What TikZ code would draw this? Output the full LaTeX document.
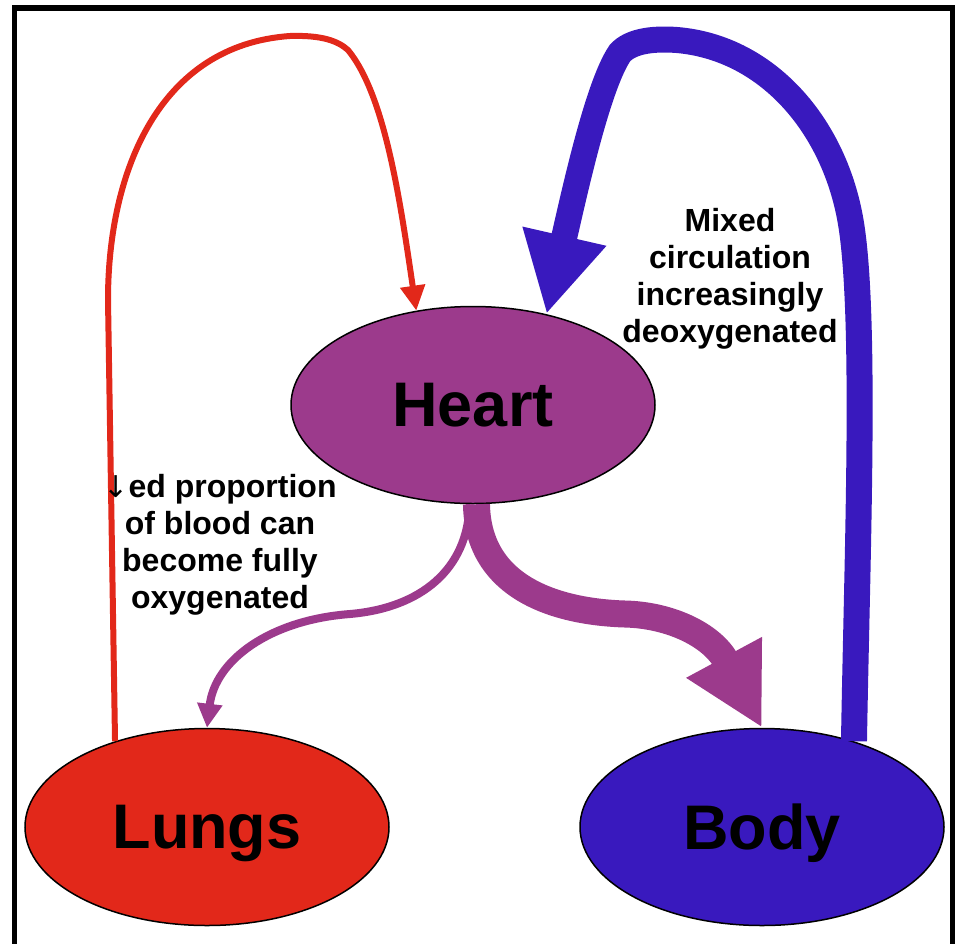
\documentclass[tikz,border=0pt]{standalone}
\usepackage{fontspec}
\setmainfont{Liberation Sans}
\newfontfamily\arrowfont{DejaVu Sans}
\usetikzlibrary{arrows.meta,shapes.geometric}
\definecolor{heartpurple}{RGB}{156,58,140}
\definecolor{lungred}{RGB}{226,40,26}
\definecolor{bodyblue}{RGB}{57,25,190}
\tikzset{organ/.style={ellipse, draw=black, line width=1.5pt, minimum width=364pt,
    minimum height=197pt, inner sep=0pt, text depth=0pt,
    font=\fontsize{63}{70}\selectfont\bfseries}}
\tikzset{note/.style={align=center, inner sep=0pt, font=\fontsize{32}{37}\selectfont\bfseries}}
\tikzset{oxyflow/.style={draw=lungred, line width=6pt, -{Triangle[length=25pt,width=24pt]}}}
\tikzset{deoxyflow/.style={draw=bodyblue, line width=26pt, -{Triangle[length=80pt,width=80pt]}}}
\tikzset{mixflow/.style={draw=heartpurple, -{Triangle[length=#1,width=#1]}}}

\begin{document}
\begin{tikzpicture}[x=1pt, y=-1pt]

		\useasboundingbox (0,0) rectangle (958,943);
		\draw[line width=5.5pt] (14.5,8) rectangle (952.5,960);

		% Organs
		\node[organ, fill=heartpurple] (Heart) at (473,405) {Heart};
		\node[organ, fill=lungred] (Lungs) at (207,827) {Lungs};
		\node[organ, fill=bodyblue] (Body) at (762,827) {Body};

		% Flows
		\draw[oxyflow] (Lungs.137) -- (108,300)
      .. controls (108,170) and (160,45) .. (290,36)
      .. controls (322,35) and (338,41) .. (348,50)
      .. controls (385,95) and (400,200) .. (Heart.121);

		\draw[deoxyflow] (Body.43) .. controls (857,560) and (866,330) .. (852,230)
      .. controls (838,130) and (770,48) .. (677,40)
      .. controls (650,38) and (630,42) .. (620,53)
      .. controls (598,85) and (575,190) .. (Heart.51);

		\draw[mixflow=80pt, line width=27pt] (Heart.-88)
      .. controls (478,590) and (560,612) .. (625,614)
      .. controls (670,615) and (712,635) .. (Body.north);
		\draw[mixflow=24pt, line width=8pt] (Heart.-92)
      .. controls (468,570) and (420,608) .. (350,614)
      .. controls (270,620) and (215,660) .. (Lungs.north);

		% Notes
		\node[note] (mixed) at (730,279)
      {Mixed\\circulation\\increasingly\\deoxygenated};
		\node[note] (fewer) at (220,545)
      {{\arrowfont\mdseries\fontsize{30}{37}\selectfont ↓}ed proportion\\of blood can\\become fully\\oxygenated};

	\end{tikzpicture}
\end{document}
